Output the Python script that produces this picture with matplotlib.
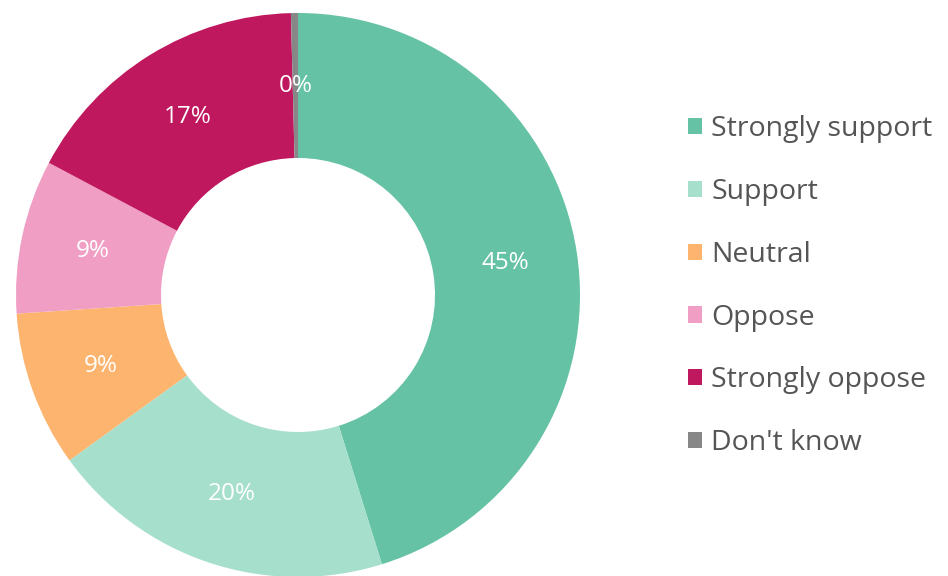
import matplotlib.pyplot as plt
import numpy as np

categories = ['Strongly support', 'Support', 'Neutral', 'Oppose', 'Strongly oppose', "Don't know"]
shares = [45.1, 19.8, 8.9, 8.8, 16.8, 0.4]
labels = ['45%', '20%', '9%', '9%', '17%', '0%']
colors = ['#66c2a5', '#a6dfcc', '#fdb46e', '#f09ec4', '#c0185f', '#878787']

plt.rcParams['font.family'] = ['Open Sans', 'DejaVu Sans']

fig = plt.figure(figsize=(9.48, 5.76), dpi=100)
ax = fig.add_axes([16 / 948, -1 / 576, 564 / 948, 564 / 576])

inner = 137 / 282
wedges, _ = ax.pie(shares, colors=colors, startangle=90, counterclock=False,
                   radius=1, wedgeprops=dict(width=1 - inner, linewidth=0))
ax.set_xlim(-1, 1)
ax.set_ylim(-1, 1)
ax.set_aspect('equal')
ax.axis('off')

# percentage labels in the middle of the ring
mid_r = (1 + inner) / 2
for w, lab in zip(wedges, labels):
    ang = np.deg2rad((w.theta1 + w.theta2) / 2)
    ax.text(mid_r * np.cos(ang), mid_r * np.sin(ang), lab, color='white',
            fontsize=17.5, ha='center', va='center')

leg = fig.legend(wedges, categories, loc='center left', bbox_to_anchor=(0.726, 0.503),
                 frameon=False, fontsize=20.5, labelspacing=1.22, handlelength=0.5,
                 handleheight=0.5, handletextpad=0.3, borderpad=0, borderaxespad=0,
                 labelcolor='#555555')

fig.savefig('out.png', dpi=100)
